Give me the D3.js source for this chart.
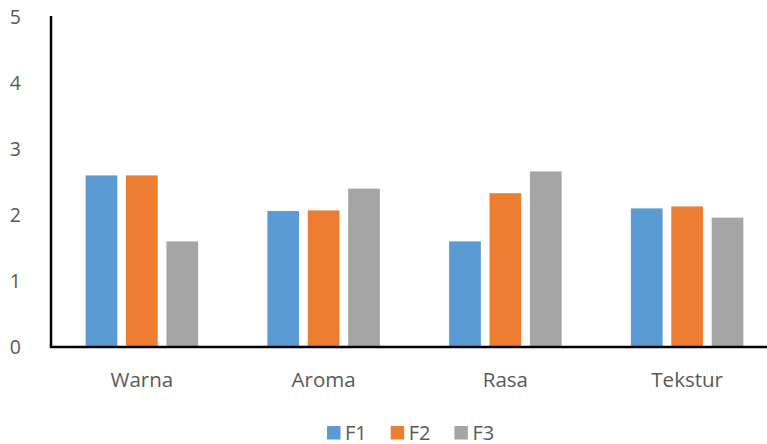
<!DOCTYPE html>
<html>
<head>
<meta charset="utf-8">
<script src="https://cdn.jsdelivr.net/npm/d3@7"></script>
<style>
  html, body { margin: 0; padding: 0; background: #fff; }
  svg { display: block; }
  text { font-family: "Open Sans", "Liberation Sans", sans-serif; fill: #595959; }
</style>
</head>
<body>
<svg id="chart" width="767" height="444"></svg>
<script>
// Sensory scores per attribute for three formulations
const categories = ["Warna", "Aroma", "Rasa", "Tekstur"];
const seriesNames = ["F1", "F2", "F3"];
const F1 = [2.6, 2.06, 1.6, 2.1];
const F2 = [2.6, 2.07, 2.33, 2.13];
const F3 = [1.6, 2.4, 2.66, 1.96];
const seriesValues = [F1, F2, F3];
const colors = ["#5B9BD5", "#ED7D31", "#A5A5A5"];
const yTicks = [0, 1, 2, 3, 4, 5];

const svg = d3.select("#chart");

const plot = { left: 51, right: 778, top: 17, bottom: 347 };

const x0 = d3.scaleBand().domain(categories).range([plot.left, plot.right]).padding(0);
const groupWidth = 112.5;
const x1 = d3.scaleBand().domain(seriesNames)
  .range([0, groupWidth]).paddingInner(0.215).paddingOuter(0);
const y = d3.scaleLinear().domain([0, 5]).range([plot.bottom, plot.top]);

// Bars
const groups = svg.append("g").selectAll("g")
  .data(categories)
  .join("g")
  .attr("transform", c => `translate(${x0(c) + (x0.bandwidth() - groupWidth) / 2},0)`);

groups.selectAll("rect")
  .data((c, i) => seriesNames.map((s, k) => ({ s, k, v: seriesValues[k][i] })))
  .join("rect")
  .attr("x", d => x1(d.s))
  .attr("width", x1.bandwidth())
  .attr("y", d => y(d.v))
  .attr("height", d => y(0) - y(d.v))
  .attr("fill", d => colors[d.k]);

// Y tick labels
const yAxis = d3.axisLeft(y).tickValues(yTicks).tickSize(0).tickPadding(0).tickFormat(d3.format("d"));
const yg = svg.append("g").attr("transform", "translate(21,0)").call(yAxis);
yg.attr("font-family", null).attr("font-size", null);
yg.select(".domain").remove();
yg.selectAll("text").attr("font-size", 19.5).style("fill", "#595959");

// Axis lines
svg.append("line")
  .attr("x1", plot.left).attr("x2", plot.left)
  .attr("y1", 16).attr("y2", plot.bottom + 1)
  .attr("stroke", "#000").attr("stroke-width", 2.5);
svg.append("line")
  .attr("x1", plot.left - 1).attr("x2", 767)
  .attr("y1", plot.bottom).attr("y2", plot.bottom)
  .attr("stroke", "#000").attr("stroke-width", 2.5);

// Category labels
const xAxis = d3.axisBottom(x0).tickSize(0).tickPadding(0);
const xg = svg.append("g").attr("transform", `translate(0,${plot.bottom})`).call(xAxis);
xg.attr("font-family", null).attr("font-size", null);
xg.select(".domain").remove();
xg.selectAll("text")
  .attr("y", 39.5).attr("dy", null)
  .attr("font-size", 20.5).style("fill", "#595959");

// Legend
const legend = svg.append("g").selectAll("g")
  .data(seriesNames)
  .join("g")
  .attr("transform", (d, i) => `translate(${327 + i * 63.7},426)`);
legend.append("rect")
  .attr("width", 13.5).attr("height", 13.5)
  .attr("fill", (d, i) => colors[i]);
legend.append("text")
  .attr("x", 18).attr("y", 13.8)
  .attr("font-size", 20)
  .text(d => d);
</script>
</body>
</html>
